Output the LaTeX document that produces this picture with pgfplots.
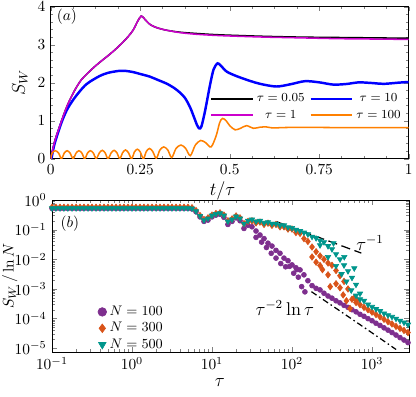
\documentclass[border=0pt]{standalone}
\usepackage{pgfplots}
\usepackage{pgfplotstable}
\pgfplotsset{compat=1.18}

\definecolor{cblue}{RGB}{0,0,255}
\definecolor{cmag}{RGB}{204,0,204}
\definecolor{corg}{RGB}{255,128,0}
\definecolor{cpur}{RGB}{126,47,142}
\definecolor{cred}{RGB}{217,83,25}
\definecolor{cteal}{RGB}{0,150,140}

% tau, S_W/lnN for N=100 (a), 300 (b), 500 (c)
\pgfplotstableread{
t      a        b        c
0.1    0.52     0.57     0.53
0.112  0.52     0.57     0.53
0.126  0.52     0.57     0.53
0.141  0.52     0.57     0.53
0.158  0.52     0.57     0.53
0.178  0.52     0.57     0.53
0.2    0.52     0.57     0.53
0.224  0.52     0.57     0.53
0.251  0.52     0.57     0.53
0.282  0.52     0.57     0.53
0.316  0.52     0.57     0.53
0.355  0.52     0.57     0.53
0.398  0.52     0.57     0.53
0.447  0.52     0.57     0.53
0.501  0.52     0.57     0.53
0.562  0.52     0.57     0.53
0.631  0.52     0.57     0.53
0.708  0.52     0.57     0.53
0.794  0.52     0.57     0.53
0.891  0.52     0.57     0.53
1      0.52     0.57     0.53
1.12   0.52     0.57     0.53
1.26   0.52     0.57     0.53
1.41   0.52     0.57     0.53
1.58   0.52     0.57     0.53
1.78   0.52     0.57     0.53
2.0    0.52     0.57     0.53
2.24   0.52     0.57     0.53
2.51   0.52     0.57     0.53
2.82   0.52     0.57     0.53
3.16   0.52     0.57     0.53
3.55   0.52     0.57     0.53
3.98   0.52     0.57     0.53
4.47   0.52     0.57     0.53
5.01   0.52     0.57     0.53
5.62   0.50     0.55     0.52
6.31   0.40     0.44     0.42
7.08   0.27     0.30     0.29
7.94   0.19     0.22     0.21
8.91   0.21     0.25     0.24
10     0.27     0.31     0.30
11.2   0.31     0.35     0.34
12.6   0.33     0.37     0.36
14.1   0.26     0.31     0.30
15.8   0.15     0.20     0.19
17.8   0.19     0.23     0.22
20     0.25     0.29     0.28
22.4   0.20     0.25     0.24
25.1   0.11     0.16     0.16
28.2   0.14     0.19     0.20
31.6   0.125    0.20     0.22
35.5   0.09     0.17     0.19
39.8   0.066    0.18     0.20
44.7   0.05     0.15     0.17
50.1   0.035    0.165    0.18
56.2   0.028    0.14     0.16
63.1   0.02     0.15     0.16
70.8   0.016    0.125    0.14
79.4   0.011    0.125    0.14
89.1   0.009    0.105    0.12
100    0.0065   0.105    0.115
112    0.0052   0.08     0.1
126    0.0044   0.075    0.09
141    0.003    0.05     0.08
158    0.0019   0.04     0.07
178    1.3e-3   0.026    0.058
200    1.05e-3  0.018    0.052
224    9.3e-4   0.013    0.043
251    7.2e-4   0.01     0.038
282    5.8e-4   0.0075   0.028
316    4.9e-4   0.0063   0.022
355    4.0e-4   0.0042   0.015
398    3.4e-4   0.0028   0.010
447    2.8e-4   0.0018   0.0063
501    2.4e-4   0.001    0.004
562    2.0e-4   4.5e-4   0.0024
631    1.7e-4   3.5e-4   0.0014
708    1.4e-4   2.95e-4  7e-4
794    1.2e-4   2.4e-4   4e-4
891    1.0e-4   2.0e-4   3e-4
1000   8.5e-5   1.66e-4  2.5e-4
1122   7.0e-5   1.38e-4  2.1e-4
1259   5.9e-5   1.15e-4  1.8e-4
1413   4.9e-5   9.5e-5   1.5e-4
1585   4.1e-5   7.9e-5   1.3e-4
1778   3.4e-5   6.6e-5   1.15e-4
1995   2.8e-5   5.5e-5   1.0e-4
2239   2.3e-5   4.7e-5   8.5e-5
2512   1.9e-5   4.0e-5   7.4e-5
2818   1.55e-5  3.4e-5   6.3e-5
}\tabB

\begin{document}
\begin{tikzpicture}
\path[use as bounding box] (0,0) rectangle (270.4pt,-257.4pt);

% ---------- (a) ----------
\begin{axis}[
  at={(32.96pt,-103.16pt)}, anchor=south west,
  scale only axis, width=232.7pt, height=98.8pt,
  xmin=0, xmax=1, ymin=0, ymax=4,
  xtick={0,0.25,0.5,0.75,1}, ytick={0,1,2,3,4},
  minor x tick num=3, minor y tick num=4,
  tick align=inside, major tick length=3pt, minor tick length=1.8pt,
  xlabel={$t/\tau$}, ylabel={$S_W$},
  xlabel style={font=\large, at={(axis description cs:0.48,-0.21)}, anchor=center},
  ylabel style={font=\large, at={(axis description cs:-0.086,0.5)}, anchor=center},
  legend columns=2,
  legend style={draw=none, fill=none, font=\footnotesize,
    at={(axis description cs:1.0,0.47)}, anchor=north east,
    /tikz/every even column/.append style={column sep=1pt}},
  legend image code/.code={\draw[#1] (0pt,0pt) -- (27pt,0pt);},
]
\addplot[black, line width=1pt, smooth] coordinates {
  (0,0)(0.011,0.45)(0.025,0.85)(0.04,1.25)(0.053,1.54)(0.07,1.85)(0.085,2.07)
  (0.1,2.22)(0.12,2.4)(0.14,2.56)(0.16,2.71)(0.18,2.87)(0.2,3.05)(0.215,3.2)
  (0.23,3.38)(0.243,3.62)(0.253,3.755)(0.262,3.68)(0.275,3.55)(0.29,3.47)
  (0.31,3.41)(0.33,3.37)(0.36,3.33)(0.4,3.3)(0.45,3.27)(0.5,3.25)(0.6,3.22)
  (0.7,3.2)(0.8,3.19)(0.9,3.18)(1,3.17)
};
\addlegendentry{$\tau=0.05$}
\addplot[cblue, line width=1.6pt, smooth] coordinates {
  (0.002,0)(0.011,0.4)(0.03,0.95)(0.045,1.28)(0.062,1.54)(0.08,1.76)(0.095,1.92)
  (0.11,2.03)(0.1375,2.18)(0.16,2.26)(0.19,2.31)(0.21,2.31)(0.23,2.28)(0.25,2.23)
  (0.277,2.16)(0.3,2.07)(0.323,1.98)(0.345,1.86)(0.361,1.74)(0.375,1.6)
  (0.389,1.36)(0.4,1.1)(0.409,0.88)(0.415,0.8)(0.421,0.85)(0.431,1.25)
  (0.445,1.94)(0.455,2.35)(0.466,2.51)(0.475,2.45)(0.492,2.29)(0.52,2.17)
  (0.556,2.05)(0.585,1.97)(0.63,1.9)(0.67,1.96)(0.71,2.04)(0.75,2.01)
  (0.79,1.95)(0.83,1.97)(0.86,2.01)(0.9,1.99)(0.93,1.97)(0.97,2.0)(1,2.02)
};
\addlegendentry{$\tau=10$}
\addplot[cmag, line width=1pt, smooth] coordinates {
  (0,0)(0.011,0.45)(0.025,0.85)(0.04,1.25)(0.053,1.54)(0.07,1.85)(0.085,2.07)
  (0.1,2.22)(0.12,2.4)(0.14,2.56)(0.16,2.71)(0.18,2.87)(0.2,3.05)(0.215,3.2)
  (0.23,3.38)(0.243,3.62)(0.253,3.755)(0.262,3.68)(0.275,3.55)(0.29,3.47)
  (0.31,3.41)(0.33,3.37)(0.36,3.32)(0.4,3.28)(0.45,3.25)(0.5,3.23)(0.6,3.2)
  (0.7,3.18)(0.8,3.16)(0.9,3.15)(1,3.14)
};
\addlegendentry{$\tau=1$}
\addplot[corg, line width=1pt, smooth] coordinates {
  (0,0)(0.004,0.15)(0.013,0.21)(0.022,0.15)(0.03,0)
  (0.038,0.15)(0.046,0.21)(0.054,0.15)(0.0625,0)
  (0.071,0.15)(0.079,0.21)(0.087,0.15)(0.095,0)
  (0.103,0.15)(0.111,0.21)(0.119,0.15)(0.127,0)
  (0.136,0.155)(0.144,0.22)(0.152,0.155)(0.16,0)
  (0.169,0.155)(0.177,0.22)(0.185,0.155)(0.193,0)
  (0.201,0.16)(0.209,0.23)(0.217,0.16)(0.226,0)
  (0.234,0.18)(0.242,0.25)(0.25,0.18)(0.259,0)
  (0.267,0.19)(0.276,0.27)(0.285,0.19)(0.295,0.01)
  (0.305,0.23)(0.316,0.31)(0.327,0.23)(0.338,0.03)
  (0.35,0.27)(0.364,0.36)(0.377,0.27)(0.39,0.08)
  (0.404,0.36)(0.419,0.48)(0.433,0.42)(0.448,0.31)
  (0.462,0.6)(0.472,0.95)(0.48,1.06)(0.49,1.0)(0.5,0.87)(0.515,0.76)
  (0.53,0.8)(0.547,0.87)(0.566,0.8)(0.585,0.83)(0.6,0.84)(0.62,0.81)
  (0.65,0.82)(0.7,0.825)(0.8,0.82)(0.9,0.82)(1,0.82)
};
\addlegendentry{$\tau=100$}
\node at (axis description cs:0.045,0.932) {$(a)$};
\end{axis}

% ---------- (b) ----------
\begin{axis}[
  at={(33.8pt,-228.8pt)}, anchor=south west,
  scale only axis, width=232.05pt, height=98.8pt,
  xmode=log, ymode=log,
  xmin=0.1, xmax=2900, ymin=7.5e-6, ymax=1,
  ytick={1e-5,1e-4,1e-3,1e-2,1e-1,1},
  xtick={0.1,1,10,100,1000},
  tick align=inside, major tick length=3pt, minor tick length=1.8pt,
  xlabel={$\tau$}, ylabel={$S_W\,/\ln N$},
  xlabel style={font=\large, at={(axis description cs:0.47,-0.2)}, anchor=center},
  ylabel style={at={(axis description cs:-0.118,0.5)}, anchor=center},
  legend style={draw=none, fill=none, font=\small,
    at={(axis description cs:0.115,0.345)}, anchor=north west,
    row sep=-1pt},
  legend image code/.code={\draw[mark repeat=2,mark phase=2,#1]
    plot coordinates {(0cm,0cm)(0.3cm,0cm)(0.8cm,0cm)};},
  legend image post style={mark size=2.8pt},
]
\addplot[only marks, mark=*, mark size=1.6pt, color=cpur] table[x=t, y=a]{\tabB};
\addlegendentry{$N=100$}
\addplot[only marks, mark=diamond*, mark size=2.1pt, color=cred] table[x=t, y=b]{\tabB};
\addlegendentry{$N=300$}
\addplot[only marks, mark=triangle*, mark size=2pt, mark options={rotate=180}, color=cteal] table[x=t, y=c]{\tabB};
\addlegendentry{$N=500$}

\addplot[only marks, mark=*, mark size=1.6pt, color=cpur, forget plot] coordinates {
  (35.5,0.055)(41.7,0.038)(47.9,0.025)(55,0.016)(63.1,0.011)(72.4,0.0072)
  (83.2,0.0056)(93.3,0.0058)(105,0.0034)(115,0.0045)(120,0.0025)
  (132,0.0012)(145,0.0008)
};
\addplot[only marks, mark=diamond*, mark size=2.1pt, color=cred, forget plot] coordinates {
  (178,0.012)(200,0.008)(224,0.0062)(240,0.0045)(282,0.003)(300,0.0012)
  (355,0.0015)(398,0.0011)(436,6.3e-4)(479,4e-4)(531,2.2e-4)(600,5e-4)(650,4.2e-4)
};
\addplot[only marks, mark=triangle*, mark size=2pt, mark options={rotate=180}, color=cteal, forget plot] coordinates {
  (224,0.03)(282,0.012)(330,0.035)(355,0.006)(417,0.0032)(450,0.012)
  (479,0.0018)(550,9e-4)(600,0.005)(631,6e-4)(708,4.5e-4)
};

\addplot[black, line width=0.8pt, dash pattern=on 6pt off 3pt, forget plot]
  coordinates {(64,0.186)(736,0.0162)};
\addplot[black, line width=0.8pt, dash pattern=on 4pt off 2pt on 1pt off 2pt, forget plot]
  coordinates {(175,8.1e-4)(300,3.04e-4)(500,1.19e-4)(1000,3.32e-5)(2000,9.12e-6)};

\node at (axis cs:944,0.035) {\large $\tau^{-1}$};
\node at (axis cs:81.5,2.25e-4) {\large $\tau^{-2}\ln\tau$};
\node at (axis description cs:0.05,0.847) {$(b)$};
\end{axis}
\end{tikzpicture}
\end{document}
